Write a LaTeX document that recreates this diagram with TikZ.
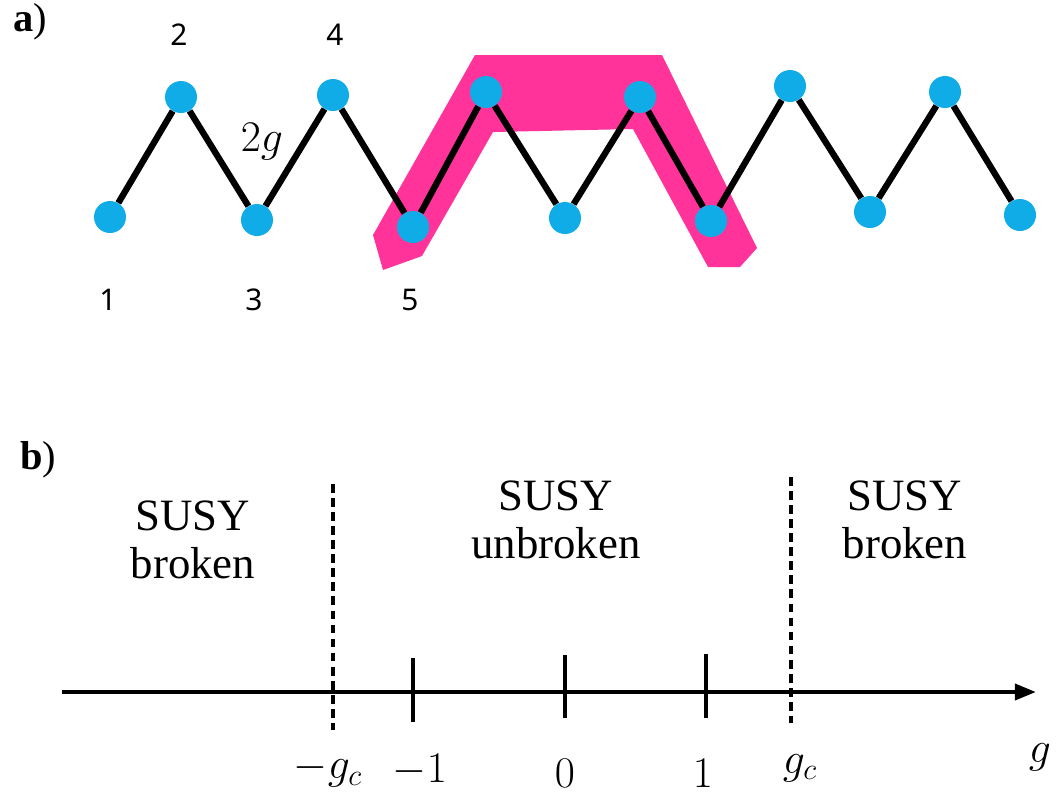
\documentclass[tikz,border=0pt]{standalone}
\usepackage{fontspec}
\setmainfont{Liberation Serif}
\newfontfamily\numfont{Noto Sans}
\usetikzlibrary{arrows.meta}

\definecolor{sitecyan}{RGB}{16,172,232}
\definecolor{pathpink}{RGB}{255,51,153}

\newcommand*{\axisy}{692}

\begin{document}
\begin{tikzpicture}[x=0.02cm,y=-0.02cm,
	site/.style={circle,fill=sitecyan,inner sep=0pt,minimum size=0.64cm},
	bond/.style={line width=3.6pt},
	numlabel/.style={font=\numfont\fontsize{17}{20}\selectfont},
	phase/.style={align=center,font=\fontsize{25.5}{27}\selectfont},
	ticklabel/.style={font=\fontsize{25}{28}\selectfont},
	crit/.style={dashed,line width=1.8pt,dash pattern=on 5pt off 3pt}]

	\useasboundingbox (0,0) rectangle (1058,796);

	% a) chain
	\node[font=\fontsize{23}{25}\selectfont] (panela) at (30,22) {\textbf{a})};

	\fill[pathpink] (373,235) -- (475,55) -- (662,55) -- (757,248) -- (740,267)
		-- (708,267) -- (633,129) -- (493,132) -- (422,256) -- (383,270) -- cycle;

	\foreach \i/\x/\y in {1/110/217, 2/181/97, 3/257/220, 4/333/95, 5/413/227,
		6/486/92, 7/565/218, 8/640/97, 9/711/221, 10/790/86, 11/870/212,
		12/945/92, 13/1020/215}
		\node[site] (s\i) at (\x,\y) {};

	\foreach \i [evaluate=\i as \j using int(\i+1)] in {1,...,12}
		\draw[bond] (s\i) -- (s\j);

	\node[numlabel] (n1) at (108,300) {1};
	\node[numlabel] (n2) at (179,35) {2};
	\node[numlabel] (n3) at (254,300) {3};
	\node[numlabel] (n4) at (335,35) {4};
	\node[numlabel] (n5) at (410,300) {5};
	\node[ticklabel] (coupling) at (262,142) {$2g$};

	% b) phase diagram
	\node[font=\fontsize{23}{25}\selectfont] (panelb) at (38,460) {\textbf{b})};

	\coordinate (gstart) at (62,\axisy);
	\coordinate (gend) at (1036,\axisy);
	\draw[line width=2.4pt,-{Triangle[length=12pt,width=9pt]}] (gstart) -- (gend);

	\coordinate (mgctop) at (333,484);
	\coordinate (mgcbot) at (333,730);
	\coordinate (gctop) at (791,477);
	\coordinate (gcbot) at (791,723);
	\draw[crit] (mgctop) -- (mgcbot);
	\draw[crit] (gctop) -- (gcbot);

	\foreach \t/\x/\a/\b in {m/413/658/722, z/565/655/718, p/706/654/718} {
		\coordinate (\t top) at (\x,\a);
		\coordinate (\t bot) at (\x,\b);
		\draw[line width=1.8pt] (\t top) -- (\t bot);
	}

	\node[ticklabel] (lmgc) at (328,770) {$-g_c$};
	\node[ticklabel] (lm) at (420,770) {$-1$};
	\node[ticklabel] (lz) at (565,773) {$0$};
	\node[ticklabel] (lp) at (703,773) {$1$};
	\node[ticklabel] (lgc) at (800,768) {$g_c$};
	\node[ticklabel] (lg) at (1040,757) {$g$};

	\node[phase] (left) at (193,540) {SUSY\\broken};
	\node[phase] (mid) at (556,520) {SUSY\\unbroken};
	\node[phase] (right) at (905,520) {SUSY\\broken};

\end{tikzpicture}
\end{document}
